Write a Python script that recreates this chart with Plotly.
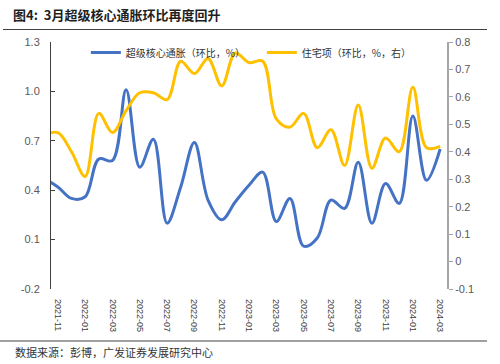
import plotly.graph_objects as go

# ---- data ----
MONTHS = ["2021-10", "2021-11", "2021-12", "2022-01", "2022-02", "2022-03", "2022-04",
          "2022-05", "2022-06", "2022-07", "2022-08", "2022-09", "2022-10", "2022-11",
          "2022-12", "2023-01", "2023-02", "2023-03", "2023-04", "2023-05", "2023-06",
          "2023-07", "2023-08", "2023-09", "2023-10", "2023-11", "2023-12", "2024-01",
          "2024-02", "2024-03"]
SUPERCORE = [0.47, 0.42, 0.35, 0.36, 0.59, 0.58, 1.01, 0.54, 0.71, 0.20, 0.42,
             0.69, 0.34, 0.22, 0.33, 0.43, 0.51, 0.21, 0.35, 0.06, 0.11, 0.34,
             0.29, 0.57, 0.20, 0.44, 0.32, 0.85, 0.46, 0.65]
SHELTER = [0.46, 0.47, 0.40, 0.31, 0.54, 0.47, 0.55, 0.615, 0.615, 0.59, 0.73,
           0.685, 0.74, 0.64, 0.76, 0.725, 0.73, 0.52, 0.49, 0.54, 0.415, 0.48,
           0.35, 0.57, 0.34, 0.45, 0.40, 0.635, 0.415, 0.42]
LEFT_TICKS = [1.3, 1.0, 0.7, 0.4, 0.1, -0.2]
LEFT_TICKTEXT = ["1.3", "1.0", "0.7", "0.4", "0.1", "-0.2"]
RIGHT_TICKS = [0.8, 0.7, 0.6, 0.5, 0.4, 0.3, 0.2, 0.1, 0.0, -0.1]
RIGHT_TICKTEXT = ["0.8", "0.7", "0.6", "0.5", "0.4", "0.3", "0.2", "0.1", "0", "-0.1"]
NAME_CORE = "超级核心通胀（环比，%）"
NAME_SHELTER = "住宅项（环比，%，右）"
TITLE = "图4:  3月超级核心通胀环比再度回升"
SOURCE = "数据来源：彭博，广发证券发展研究中心"

BLUE = "#4472C4"
YELLOW = "#FFC000"
CJK = "Noto Sans CJK SC"
LAT = "Liberation Sans, Arial"

xpos = list(range(len(MONTHS)))
label_idx = xpos[1::2]
label_txt = MONTHS[1::2]
boundary_ticks = [i - 0.5 for i in label_idx]
xrange = [0.5, len(MONTHS) - 0.5]

fig = go.Figure()
fig.add_trace(go.Scatter(x=xpos, y=SUPERCORE, name=NAME_CORE, mode="lines",
                         line=dict(color=BLUE, width=3, shape="spline", smoothing=1.0),
                         yaxis="y"))
fig.add_trace(go.Scatter(x=xpos, y=SHELTER, name=NAME_SHELTER, mode="lines",
                         line=dict(color=YELLOW, width=3, shape="spline", smoothing=1.0),
                         yaxis="y2"))

fig.update_layout(
    width=500, height=364,
    margin=dict(l=51, r=53, t=42, b=75),
    paper_bgcolor="white", plot_bgcolor="white",
    title=dict(text="<b>" + TITLE + "</b>", x=13 / 500, xref="container", xanchor="left",
               y=1 - 15 / 364, yref="container", yanchor="middle",
               font=dict(family=CJK, size=13, color="#1f1f1f")),
    showlegend=True,
    legend=dict(orientation="h", x=0.088, xanchor="left", y=0.957, yanchor="middle",
                font=dict(family=CJK, size=10, color="#333333"),
                bgcolor="rgba(0,0,0,0)", itemwidth=30, entrywidth=131,
                tracegroupgap=0),
    xaxis=dict(range=xrange, showgrid=False, zeroline=False, showline=False,
               tickmode="array", tickvals=label_idx, ticktext=label_txt,
               tickangle=90, ticks="", ticklabelstandoff=9,
               tickfont=dict(family=LAT, size=9, color="#404040")),
    xaxis2=dict(range=xrange, overlaying="x", anchor="free", position=0.2 / 1.5,
                showgrid=False, zeroline=False, showline=True, linecolor="#404040",
                linewidth=1, tickmode="array", tickvals=boundary_ticks,
                ticks="inside", ticklen=4, tickcolor="#404040",
                showticklabels=False),
    yaxis=dict(range=[-0.2, 1.3], tickmode="array", tickvals=LEFT_TICKS,
               ticktext=LEFT_TICKTEXT, showgrid=False, zeroline=False,
               showline=True, linecolor="#404040", linewidth=1,
               ticks="inside", ticklen=4, tickcolor="#404040",
               ticklabelstandoff=8,
               tickfont=dict(family=LAT, size=11, color="#595959")),
    yaxis2=dict(range=[-0.1, 0.8], overlaying="y", side="right", anchor="x",
                tickmode="array", tickvals=RIGHT_TICKS, ticktext=RIGHT_TICKTEXT,
                showgrid=False, zeroline=False, showline=True,
                linecolor="#a6a6a6", linewidth=2,
                ticks="outside", ticklen=4, tickcolor="#a6a6a6",
                tickfont=dict(family=LAT, size=11, color="#595959")),
)

# source and separator rules
fig.add_annotation(text=SOURCE, xref="paper", yref="paper", align="left",
                   x=(13 - 51) / 396, y=(289 - 352) / 247, xanchor="left", yanchor="middle",
                   showarrow=False, font=dict(family=CJK, size=11, color="#333333"))
fig.add_shape(type="line", xref="paper", yref="paper",
              x0=(3 - 51) / 396, x1=(487 - 51) / 396,
              y0=(289 - 29.5) / 247, y1=(289 - 29.5) / 247,
              line=dict(color="#404040", width=1))
fig.add_shape(type="line", xref="paper", yref="paper",
              x0=(0 - 51) / 396, x1=(487 - 51) / 396,
              y0=(289 - 341) / 247, y1=(289 - 341) / 247,
              line=dict(color="#808080", width=1.5))

fig.write_html("out.html", config={"displayModeBar": False},
               post_script="document.body.style.margin='0';document.body.style.padding='0';")
